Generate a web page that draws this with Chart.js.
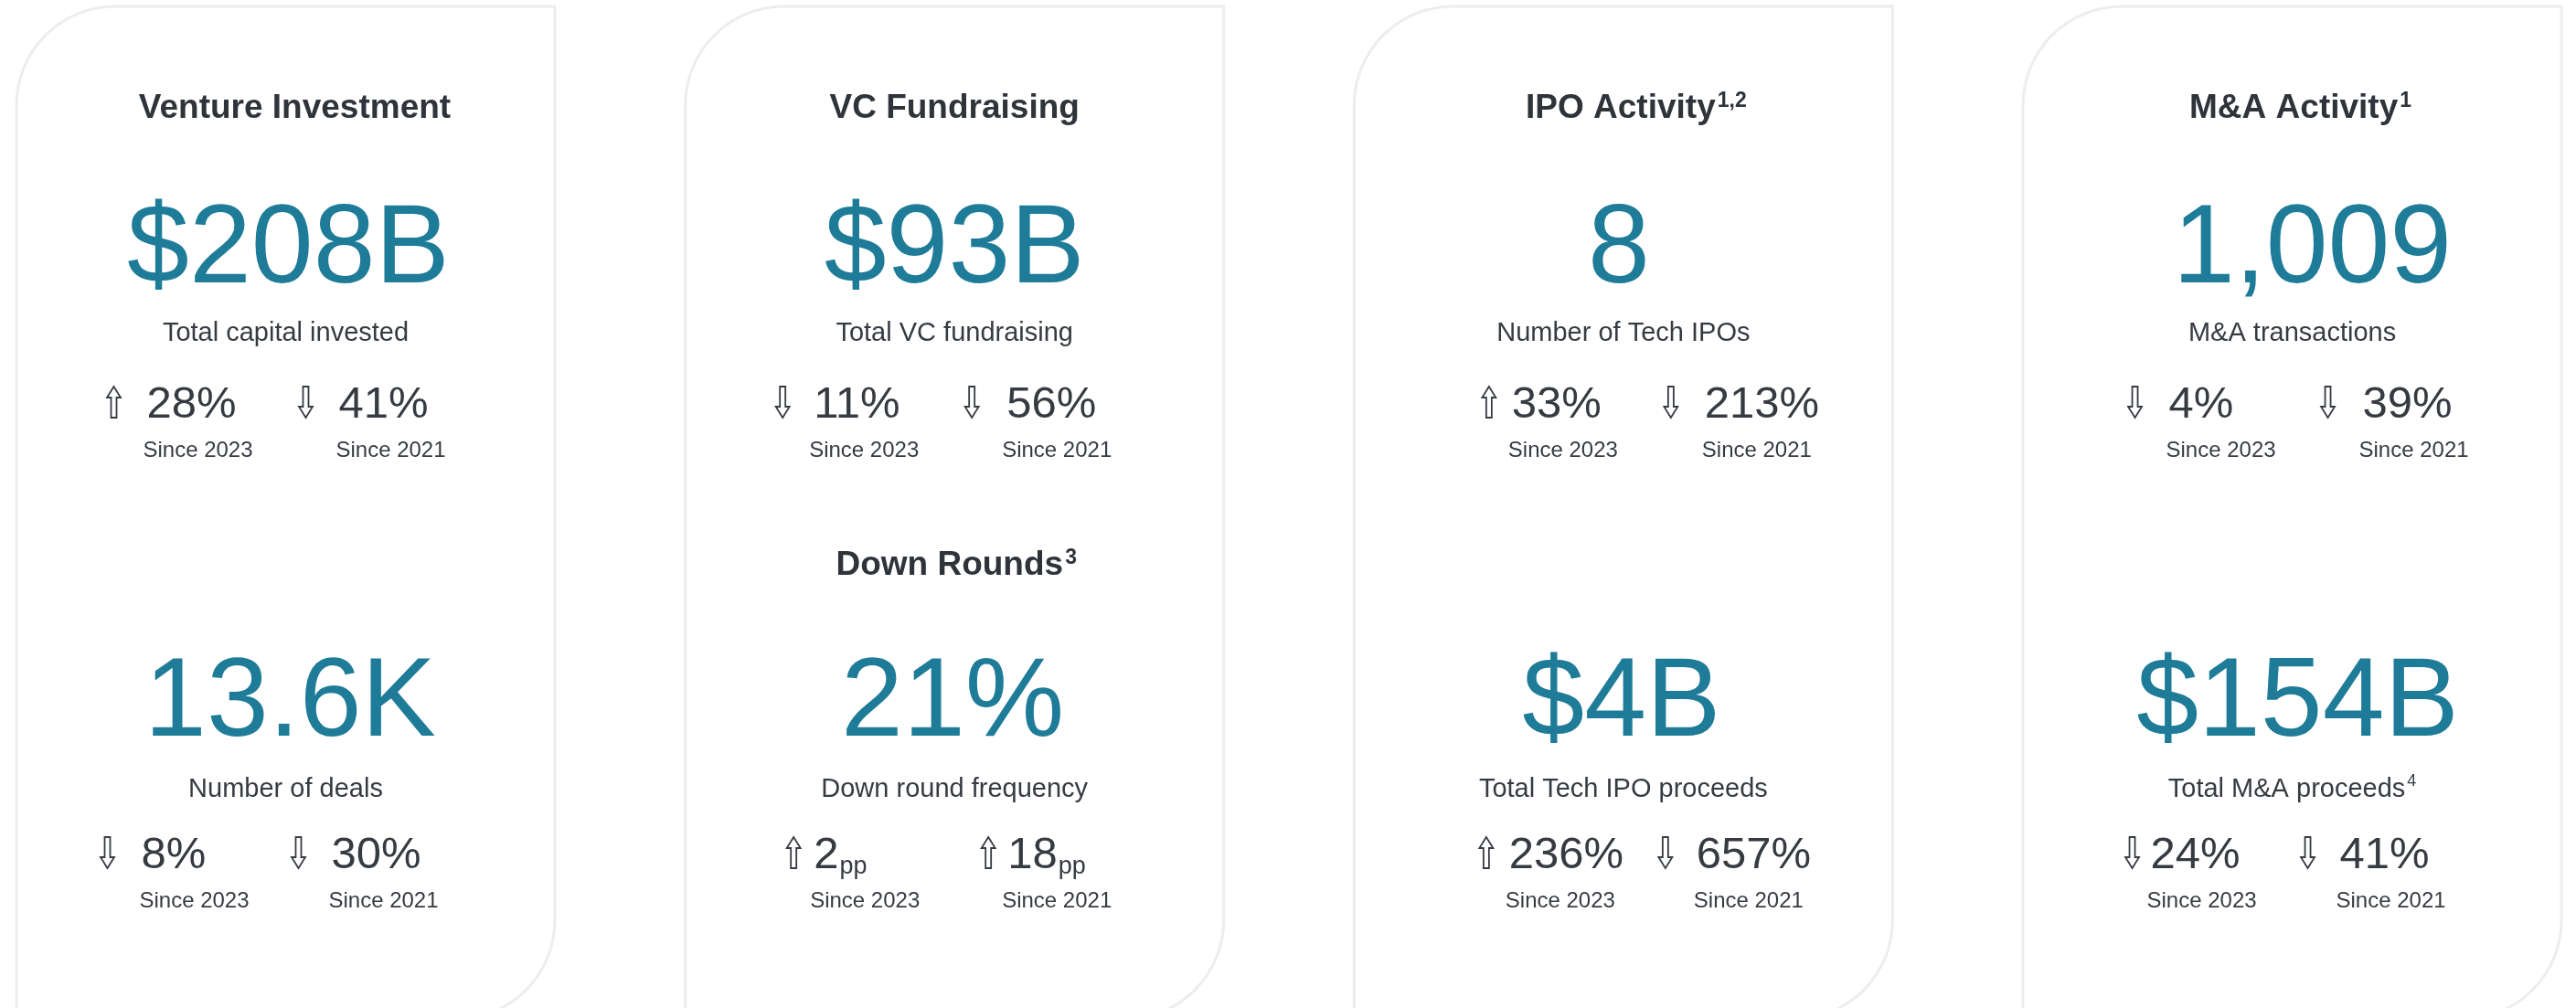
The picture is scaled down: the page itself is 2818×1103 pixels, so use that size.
<!DOCTYPE html>
<html>
<head>
<meta charset="utf-8">
<script src="https://cdn.jsdelivr.net/npm/chart.js@4/dist/chart.umd.min.js"></script>
<style>
  html, body { margin: 0; padding: 0; background: #ffffff; }
  canvas { display: block; }
</style>
</head>
<body>
<canvas id="myChart" width="2818" height="1103"></canvas>
<script>
// card headers
var cardTitles = ['Venture Investment', 'VC Fundraising', 'IPO Activity', 'M&A Activity'];
var cardTitleNotes = ['', '', '1,2', '1'];

// upper block of each card
var topValues = ['$208B', '$93B', '8', '1,009'];
var topLabels = ['Total capital invested', 'Total VC fundraising', 'Number of Tech IPOs', 'M&A transactions'];
var topSince2023 = [28, -11, 33, -4];
var topSince2021 = [-41, -56, -213, -39];

// lower block of each card
var lowerTitles = ['', 'Down Rounds', '', ''];
var lowerTitleNotes = ['', '3', '', ''];
var lowerValues = ['13.6K', '21%', '$4B', '$154B'];
var lowerLabels = ['Number of deals', 'Down round frequency', 'Total Tech IPO proceeds', 'Total M&A proceeds'];
var lowerLabelNotes = ['', '', '', '4'];
var lowerSince2023 = [-8, 2, 236, -24];
var lowerSince2021 = [-30, 18, -657, -41];
var lowerUnits = ['%', 'pp', '%', '%'];

var compareLabels = ['Since 2023', 'Since 2021'];

// ---- look & layout ----
var FONT = '"Liberation Sans", Arial, sans-serif';
var TEAL = '#1f7c99';
var DARK = '#2f343b';
var BODY = '#363b42';
var BORDER = '#ededed';

var rowY = [
    { title: 129, value: 309, label: 373, change: 457, since: 500 },
    { title: 629, value: 805, label: 872, change: 950, since: 993 }
];
// small horizontal nudges per card, [upper, lower]
var titleNudge = [[10, 0], [0, 2], [14, 0], [9, 0]];
var valueNudge = [[3, 5], [0, -2], [-5, -2], [22, 6]];
// offsets from card centre: arrow, value start, "since" centre
var changeX = [
    [[[-188, -152, -96], [22, 58, 115]], [[-195, -158, -100], [14, 50, 107]]],
    [[[-188, -154, -99], [19, 57, 112]], [[-176, -154, -98], [37, 58, 112]]],
    [[[-147, -122, -66], [52, 89, 146]], [[-150, -125, -69], [46, 80, 137]]],
    [[[-172, -135, -78], [39, 77, 133]], [[-175, -155, -99], [17, 52, 108]]]
];

function put(ctx, str, x, y, size, weight, color, align, spacing) {
    ctx.font = weight + ' ' + size + 'px ' + FONT;
    ctx.letterSpacing = (spacing || 0) + 'px';
    ctx.fillStyle = color;
    ctx.textAlign = align;
    ctx.textBaseline = 'alphabetic';
    ctx.fillText(str, x, y);
    var w = ctx.measureText(str).width;
    ctx.letterSpacing = '0px';
    return w;
}

function measure(ctx, str, size, weight) {
    ctx.font = weight + ' ' + size + 'px ' + FONT;
    ctx.letterSpacing = '0px';
    return ctx.measureText(str).width;
}

// centred text with an optional superscript note
function noted(ctx, str, note, cx, y, size, weight, color, noteSize, noteRise) {
    var w = measure(ctx, str, size, weight);
    var nw = note ? measure(ctx, note, noteSize, weight) + 2 : 0;
    var x0 = cx - (w + nw) / 2;
    put(ctx, str, x0, y, size, weight, color, 'left');
    if (note) put(ctx, note, x0 + w + 2, y - noteRise, noteSize, weight, color, 'left');
}

function arrow(ctx, cx, top, bottom, up) {
    var hw = 7.5, sw = 3, hh = 12;
    ctx.save();
    ctx.strokeStyle = BODY;
    ctx.lineWidth = 1.8;
    ctx.lineJoin = 'miter';
    ctx.beginPath();
    if (up) {
        ctx.moveTo(cx, top);
        ctx.lineTo(cx + hw, top + hh);
        ctx.lineTo(cx + sw, top + hh);
        ctx.lineTo(cx + sw, bottom);
        ctx.lineTo(cx - sw, bottom);
        ctx.lineTo(cx - sw, top + hh);
        ctx.lineTo(cx - hw, top + hh);
    } else {
        ctx.moveTo(cx, bottom);
        ctx.lineTo(cx + hw, bottom - hh);
        ctx.lineTo(cx + sw, bottom - hh);
        ctx.lineTo(cx + sw, top);
        ctx.lineTo(cx - sw, top);
        ctx.lineTo(cx - sw, bottom - hh);
        ctx.lineTo(cx - hw, bottom - hh);
    }
    ctx.closePath();
    ctx.stroke();
    ctx.restore();
}

function cardShape(ctx, cx, top, bottom) {
    var half = 294.5, r = 108;
    var l = cx - half, rt = cx + half;
    ctx.save();
    ctx.strokeStyle = BORDER;
    ctx.lineWidth = 3;
    ctx.beginPath();
    ctx.moveTo(l, bottom);
    ctx.lineTo(l, top + r);
    ctx.arcTo(l, top, l + r, top, r);
    ctx.lineTo(rt, top);
    ctx.lineTo(rt, bottom - r);
    ctx.arcTo(rt, bottom, rt - r, bottom, r);
    ctx.lineTo(l, bottom);
    ctx.stroke();
    ctx.restore();
}

function drawChange(ctx, cx, pos, y, val, unit) {
    var r = y.change;
    arrow(ctx, cx + pos[0], r - 34, r, val > 0);
    var num = String(Math.abs(val));
    if (unit == 'pp') {
        var w = put(ctx, num, cx + pos[1], r, 49, 'normal', BODY, 'left');
        put(ctx, 'pp', cx + pos[1] + w + 1, r + 6, 27, 'normal', BODY, 'left');
    } else {
        put(ctx, num + unit, cx + pos[1], r, 49, 'normal', BODY, 'left');
    }
}

function drawBlock(ctx, cx, i, row, title, note, value, label, labelNote, s23, s21, unit) {
    var y = rowY[row];
    if (title) noted(ctx, title, note, cx + titleNudge[i][row], y.title, 37, 'bold', DARK, 23, 12);
    put(ctx, value, cx + valueNudge[i][row], y.value, 122, 'normal', TEAL, 'center');
    noted(ctx, label, labelNote, cx, y.label, 29, 'normal', BODY, 18, 12);
    var pos = changeX[i][row];
    drawChange(ctx, cx, pos[0], y, s23, unit);
    drawChange(ctx, cx, pos[1], y, s21, unit);
    put(ctx, compareLabels[0], cx + pos[0][2], y.since, 24, 'normal', BODY, 'center');
    put(ctx, compareLabels[1], cx + pos[1][2], y.since, 24, 'normal', BODY, 'center');
}

var cardsPlugin = {
    id: 'kpiCards',
    afterDraw: function (chart) {
        var ctx = chart.ctx;
        var xs = chart.scales.x, ys = chart.scales.y;
        for (var i = 0; i < cardTitles.length; i++) {
            var cx = xs.getPixelForValue(i);
            cardShape(ctx, cx, ys.getPixelForValue(7), ys.getPixelForValue(1115));
            drawBlock(ctx, cx, i, 0, cardTitles[i], cardTitleNotes[i], topValues[i], topLabels[i], '',
                topSince2023[i], topSince2021[i], '%');
            drawBlock(ctx, cx, i, 1, lowerTitles[i], lowerTitleNotes[i], lowerValues[i], lowerLabels[i],
                lowerLabelNotes[i], lowerSince2023[i], lowerSince2021[i], lowerUnits[i]);
        }
    }
};

var ctx = document.getElementById('myChart').getContext('2d');
var chart = new Chart(ctx, {
    type: 'scatter',
    data: {
        datasets: [{
            data: cardTitles.map(function (t, i) { return { x: i, y: 0 }; }),
            pointRadius: 0
        }]
    },
    options: {
        responsive: false,
        animation: false,
        events: [],
        layout: { padding: 0 },
        plugins: { legend: { display: false }, tooltip: { enabled: false } },
        scales: {
            x: { type: 'linear', min: -0.4271, max: 3.4243, display: false },
            y: { type: 'linear', min: 0, max: 1103, reverse: true, display: false }
        }
    },
    plugins: [cardsPlugin]
});
</script>
</body>
</html>
